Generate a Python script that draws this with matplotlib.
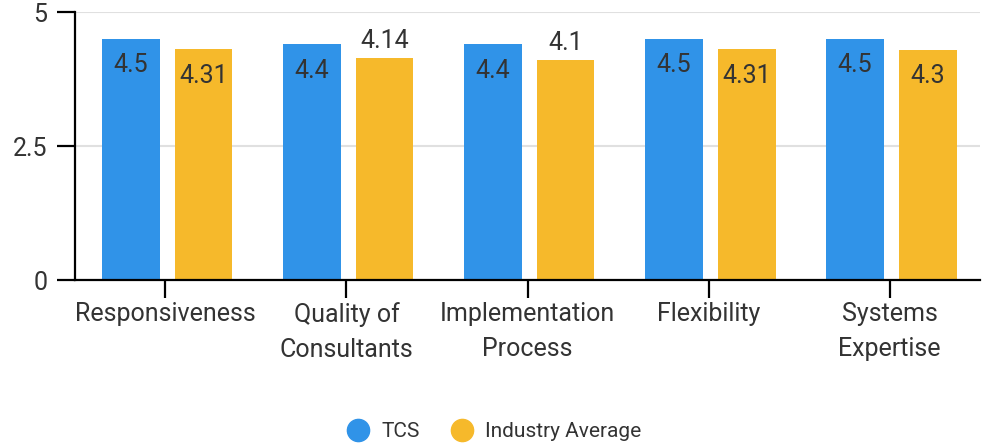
import matplotlib.pyplot as plt
import numpy as np

categories = ["Responsiveness", "Quality of\nConsultants", "Implementation\nProcess", "Flexibility", "Systems\nExpertise"]
tcs = [4.5, 4.4, 4.4, 4.5, 4.5]
industry = [4.31, 4.14, 4.1, 4.31, 4.3]
series_names = ["TCS", "Industry Average"]

plt.rcParams["font.family"] = ["Roboto", "DejaVu Sans"]
text_color = "#333333"
colors = ["#3093e8", "#f6b92b"]

fig = plt.figure(figsize=(9.85, 4.46), dpi=100)
ax = fig.add_axes([0.0761, 0.372, 0.9189, 0.601])

x = np.arange(len(categories))
width = 0.32
offsets = [-0.19, 0.21]

for vals, color, off, name in zip([tcs, industry], colors, offsets, series_names):
    bars = ax.bar(x + off, vals, width=width, color=color, label=name, zorder=2)
    for bar, v in zip(bars, vals):
        # short bars get label above, others inside
        if v < 4.2:
            ax.annotate(f"{v:g}", (bar.get_x() + bar.get_width() / 2, v),
                        xytext=(0, 4), textcoords="offset points",
                        ha="center", va="bottom", fontsize=18, color=text_color)
        else:
            ax.annotate(f"{v:g}", (bar.get_x() + bar.get_width() / 2, v),
                        xytext=(0, -10.5), textcoords="offset points",
                        ha="center", va="top", fontsize=18, color=text_color)

ax.set_xlim(-0.5, len(categories) - 0.5)
ax.set_ylim(0, 5)
ax.set_yticks([0, 2.5, 5])
ax.set_yticklabels(["0", "2.5", "5"])
ax.set_xticks(x)
ax.set_xticklabels(categories, linespacing=1.55)

ax.grid(axis="y", color="#e0e0e0", linewidth=1.5, zorder=0)
ax.set_axisbelow(True)
for s in ["top", "right"]:
    ax.spines[s].set_visible(False)
for s in ["left", "bottom"]:
    ax.spines[s].set_linewidth(1.6)
    ax.spines[s].set_color("black")
ax.tick_params(axis="both", length=13, width=1.6, colors="black",
               labelsize=18, labelcolor=text_color)
ax.tick_params(axis="y", pad=7)
ax.tick_params(axis="x", pad=3)

handles = [plt.Line2D([], [], marker="o", linestyle="", markersize=16,
                      markerfacecolor=c, markeredgecolor=c) for c in colors]
fig.legend(handles, series_names, loc="center", bbox_to_anchor=(0.501, 0.032),
           ncol=2, frameon=False, fontsize=15, labelcolor=text_color,
           handlelength=1.2, handletextpad=0.5, columnspacing=1.45)

fig.savefig("out.png", dpi=100)
